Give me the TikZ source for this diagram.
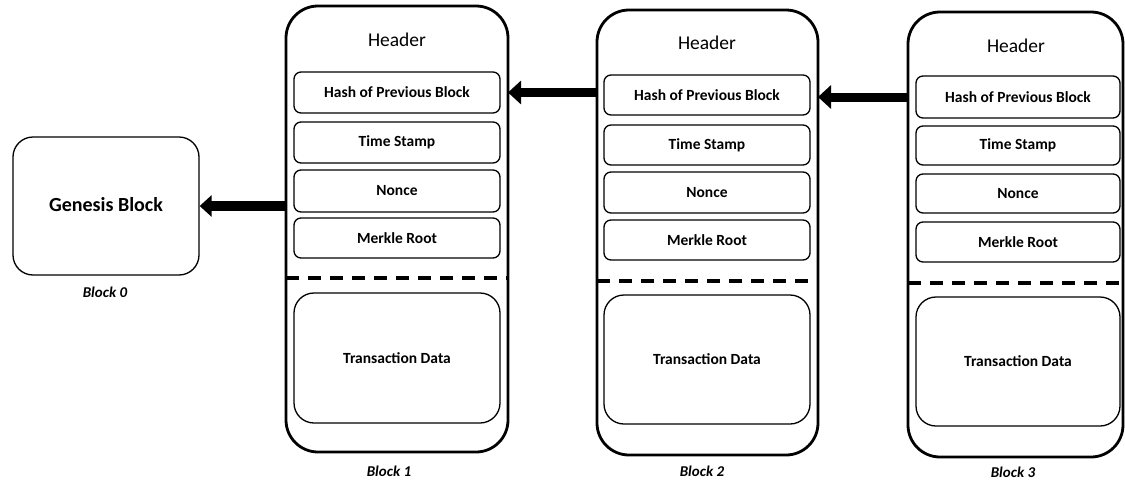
\documentclass[tikz,border=0pt]{standalone}
\usepackage{fontspec}
\setmainfont{Carlito}
\usetikzlibrary{arrows.meta}
\begin{document}
\begin{tikzpicture}[x=1pt,y=-1pt,
  outerbox/.style={draw, line width=2.8pt, rounded corners=32pt, inner sep=0pt, outer sep=0pt},
  field/.style={draw, line width=1.3pt, rounded corners=7pt, inner sep=0pt, outer sep=0pt,
    font=\fontsize{15.5}{18}\selectfont\bfseries},
  txbox/.style={draw, line width=1.3pt, rounded corners=20pt, inner sep=0pt, outer sep=0pt,
    font=\fontsize{15.5}{18}\selectfont\bfseries},
  hdr/.style={font=\fontsize{19.5}{22}\selectfont},
  blabel/.style={font=\fontsize{15}{18}\selectfont\bfseries\itshape},
  sep/.style={line width=3.4pt, dash pattern=on 13pt off 9pt},
  bigarrow/.style={line width=9pt, -{Triangle[width=23pt,length=13pt]}}
]
\useasboundingbox (0,0) rectangle (1125,482);

% Genesis block
\node[draw, line width=1.3pt, rounded corners=20pt, inner sep=0pt, minimum width=186pt, minimum height=138pt,
  font=\fontsize{20}{24}\selectfont\bfseries] (gen) at (106,206) {\raisebox{4pt}{Genesis Block}};
\node[blabel] (l0) at (105,292) {Block 0};

% Block 1
\node[outerbox, minimum width=222pt, minimum height=446pt] (b1) at (397,229) {};
\node[hdr] (h1) at (397,40) {Header};
\node[field, minimum width=206pt, minimum height=41pt] (b1hash) at (397,92.5) {Hash of Previous Block};
\node[field, minimum width=206pt, minimum height=41pt] (b1time) at (397,142.5) {Time Stamp};
\node[field, minimum width=206pt, minimum height=42pt] (b1nonce) at (397,191) {Nonce};
\node[field, minimum width=206pt, minimum height=40pt] (b1merkle) at (397,238) {Merkle Root};
\draw[sep] (b1.west |- 0,278) -- (b1.east |- 0,278);
\node[txbox, minimum width=206pt, minimum height=130pt] (b1tx) at (397,358) {Transaction Data};
\node[blabel] (l1) at (389,471) {Block 1};

% Block 2
\node[outerbox, minimum width=221pt, minimum height=445pt] (b2) at (707.5,232.5) {};
\node[hdr] (h2) at (707,43) {Header};
\node[field, minimum width=206pt, minimum height=40pt] (b2hash) at (707,95) {Hash of Previous Block};
\node[field, minimum width=206pt, minimum height=40pt] (b2time) at (707,145) {Time Stamp};
\node[field, minimum width=206pt, minimum height=41pt] (b2nonce) at (707,192.5) {Nonce};
\node[field, minimum width=206pt, minimum height=40pt] (b2merkle) at (707,240) {Merkle Root};
\draw[sep] (b2.west |- 0,281) -- (b2.east |- 0,281);
\node[txbox, minimum width=206pt, minimum height=129pt] (b2tx) at (707,359.5) {Transaction Data};
\node[blabel] (l2) at (702,471) {Block 2};

% Block 3
\node[outerbox, minimum width=215pt, minimum height=445pt] (b3) at (1015.5,234.5) {};
\node[hdr] (h3) at (1016,46) {Header};
\node[field, minimum width=204pt, minimum height=42pt] (b3hash) at (1018,97) {Hash of Previous Block};
\node[field, minimum width=204pt, minimum height=39pt] (b3time) at (1018,145.5) {Time Stamp};
\node[field, minimum width=204pt, minimum height=39pt] (b3nonce) at (1018,193.5) {Nonce};
\node[field, minimum width=204pt, minimum height=40pt] (b3merkle) at (1018,242) {Merkle Root};
\draw[sep] (b3.west |- 0,283) -- (b3.east |- 0,283);
\node[txbox, minimum width=204pt, minimum height=129pt] (b3tx) at (1018,361.5) {Transaction Data};
\node[blabel] (l3) at (1013,472.5) {Block 3};

% Arrows
\draw[line width=10pt, -{Triangle[width=21pt,length=12pt]}] (b1.west |- gen) -- (gen.east);
\draw[bigarrow] (b2.west |- b1hash) -- (b1.east |- b1hash);
\draw[bigarrow] (b3.west |- b3hash) -- (b2.east |- b3hash);
\end{tikzpicture}
\end{document}
